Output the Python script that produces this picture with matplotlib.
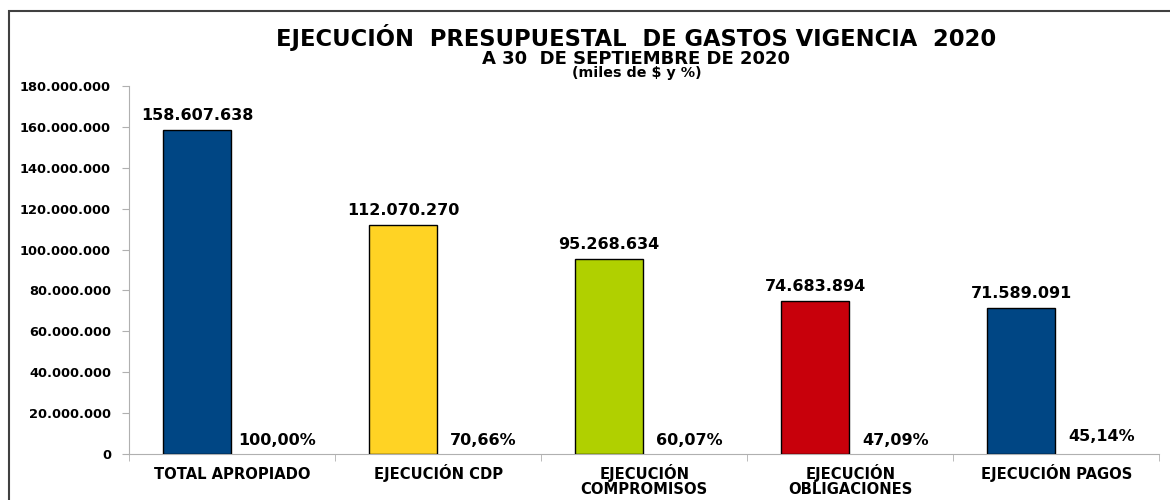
import matplotlib.pyplot as plt
from matplotlib.patches import Rectangle
import numpy as np

plt.rcParams['font.family'] = ['DejaVu Sans']
plt.rcParams['font.weight'] = 'bold'

categorias = ['TOTAL APROPIADO', 'EJECUCIÓN CDP', 'EJECUCIÓN\nCOMPROMISOS',
              'EJECUCIÓN\nOBLIGACIONES', 'EJECUCIÓN PAGOS']
valores = [158607638, 112070270, 95268634, 74683894, 71589091]
porcentajes = [100.00, 70.66, 60.07, 47.09, 45.14]
colores = ['#004684', '#FFD324', '#B0D000', '#C8000B', '#004684']

def fmt_miles(v):
    return f'{v:,.0f}'.replace(',', '.')

fig = plt.figure(figsize=(11.7, 5.0), dpi=100)
ax = fig.add_axes([0.1103, 0.092, 0.8807, 0.736])

x = np.arange(len(categorias))
w = 0.33
ax.bar(x - w / 2 - 0.005, valores, width=w, color=colores, edgecolor='black', linewidth=1.0, zorder=3)
ax.bar(x + w / 2 + 0.005, porcentajes, width=w, color='none', zorder=3)

for xi, v in zip(x, valores):
    ax.annotate(fmt_miles(v), (xi - w / 2 - 0.005, v), xytext=(0, 5), textcoords='offset points',
                ha='center', va='bottom', fontsize=11.5, fontweight='bold')
for i, (xi, p) in enumerate(zip(x, porcentajes)):
    dy = 7 if i == 4 else 4
    ax.annotate(f'{p:.2f}%'.replace('.', ','), (xi + 0.22, 0), xytext=(0, dy),
                textcoords='offset points', ha='center', va='bottom', fontsize=11.5, fontweight='bold')

# etiquetas de categoria, una linea cada vez para alinear por la base
for xi, cat in zip(x, categorias):
    for k, linea in enumerate(cat.split('\n')):
        ax.annotate(linea, (xi, 0), xycoords=('data', 'axes fraction'), xytext=(0, -18 - 11 * k),
                    textcoords='offset points', ha='center', va='baseline', fontsize=10.6,
                    fontweight='bold')

ax.set_xlim(-0.5, 4.5)
ax.set_ylim(0, 180000000)
ax.set_yticks(np.arange(0, 180000001, 20000000))
ax.set_yticklabels([fmt_miles(t) for t in ax.get_yticks()], fontsize=9.4, fontweight='bold')
ax.set_xticks([])
ax.set_xticks(np.arange(-0.5, 4.6, 1.0), minor=True)
ax.tick_params(axis='x', which='minor', length=5, color='#b0b0b0', direction='out')
ax.tick_params(axis='y', length=5, color='#b0b0b0', pad=8)

for s in ['top', 'right']:
    ax.spines[s].set_visible(False)
ax.spines['left'].set_color('#b0b0b0')
ax.spines['bottom'].set_color('#b0b0b0')

fig.text(0.544, 0.908, 'EJECUCIÓN  PRESUPUESTAL  DE GASTOS VIGENCIA  2020', ha='center', va='baseline',
         fontsize=16.3, fontweight='bold')
fig.text(0.544, 0.872, 'A 30  DE SEPTIEMBRE DE 2020', ha='center', va='baseline', fontsize=13, fontweight='bold')
fig.text(0.544, 0.846, '(miles de $ y %)', ha='center', va='baseline', fontsize=10.3, fontweight='bold')

fig.patches.append(Rectangle((9 / 1170, -0.05), 1.2, 1.05 - 11 / 500, transform=fig.transFigure,
                             fill=False, edgecolor='#404040', linewidth=1.5))

fig.savefig('out.png', dpi=100)
